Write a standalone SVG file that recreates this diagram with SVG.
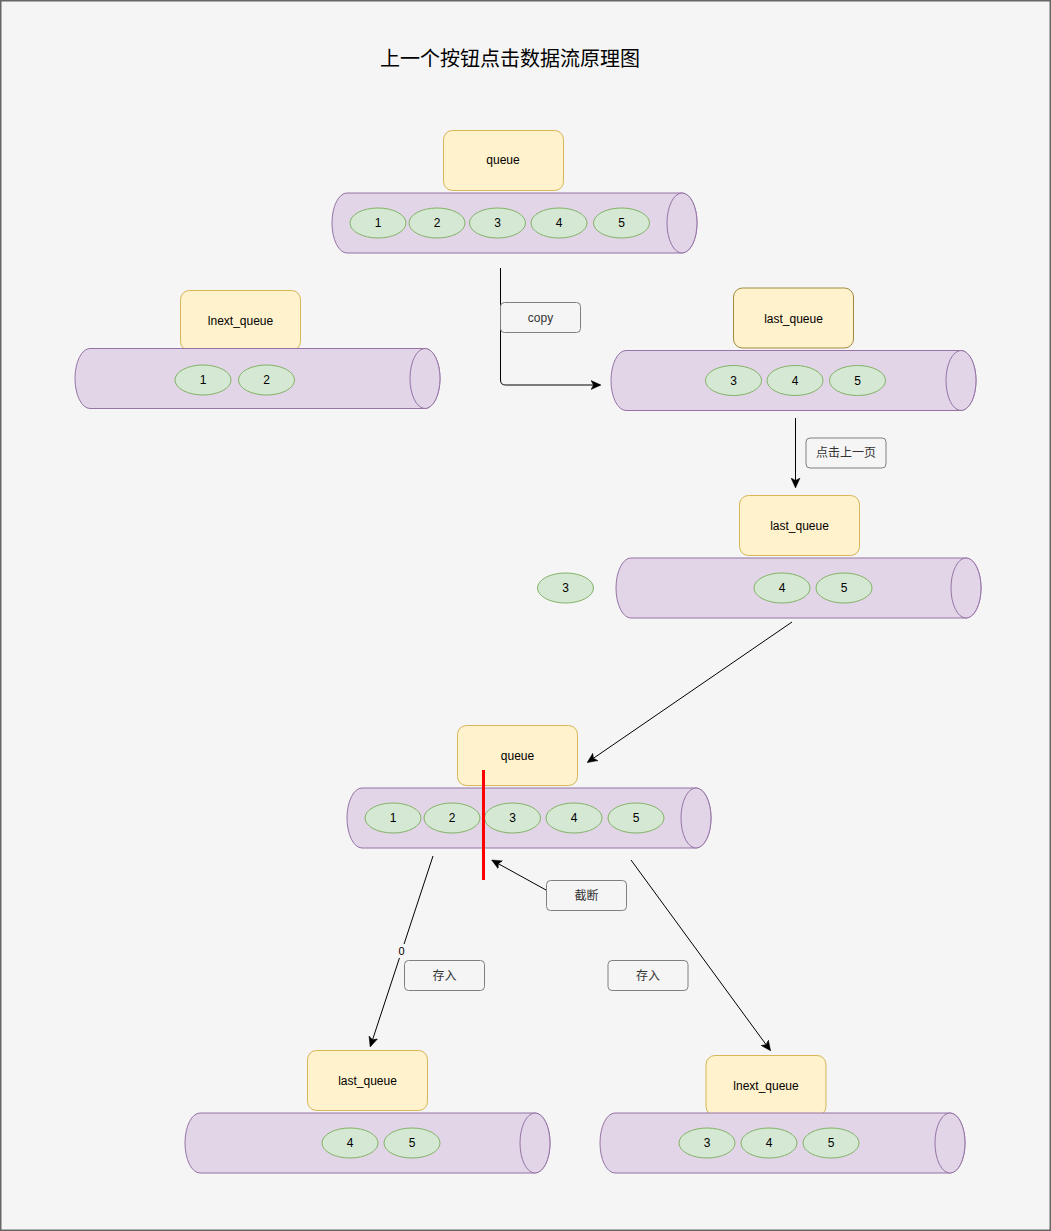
<svg xmlns="http://www.w3.org/2000/svg" width="1051" height="1231" viewBox="0 0 1051 1231">
  <style>
    .bg { fill: #f5f5f5; stroke: #666666; stroke-width: 1.5; }
    .title { font-family: "Liberation Sans", "Noto Sans CJK SC", sans-serif; font-size: 20px; fill: #000000; text-anchor: middle; }
    .label { fill: #fff2cc; stroke: #d6b656; stroke-width: 1; }
    .label-dark { fill: #fff2cc; stroke: #a08a3c; stroke-width: 1; }
    .tube { fill: #e1d5e7; stroke: #9673a6; stroke-width: 1; }
    .item { fill: #d5e8d4; stroke: #82b366; stroke-width: 1; }
    .note { fill: #f5f5f5; stroke: #808080; stroke-width: 1; }
    .txt { font-family: "Liberation Sans", "Noto Sans CJK SC", sans-serif; font-size: 12px; fill: #000000; text-anchor: middle; dominant-baseline: central; }
    .ntxt { font-family: "Liberation Sans", "Noto Sans CJK SC", sans-serif; font-size: 12px; fill: #333333; text-anchor: middle; dominant-baseline: central; }
    .edge { fill: none; stroke: #000000; stroke-width: 1; }
    .cut { fill: none; stroke: #ff0000; stroke-width: 3; }
  </style>
  <defs>
    <marker id="arrow" viewBox="0 0 10 10" refX="9" refY="5" markerWidth="10" markerHeight="10" markerUnits="userSpaceOnUse" orient="auto">
      <path d="M 0 0.5 L 10 5 L 0 9.5 L 2.5 5 Z" fill="#000000" stroke="#000000" stroke-width="0.5"/>
    </marker>
  </defs>

  <rect class="bg" x="0.75" y="0.75" width="1049.5" height="1229.5"/>

  <text class="title" x="510" y="66">上一个按钮点击数据流原理图</text>

  <!-- queue (top) -->
  <g id="queue-top">
    <path class="tube" d="M 347 193 L 682 193 A 15 30 0 0 1 682 253 L 347 253 A 15 30 0 0 1 347 193 Z"/>
    <ellipse class="tube" cx="682" cy="223" rx="15" ry="30"/>
    <rect class="label" x="443.5" y="130.5" width="120" height="60" rx="9"/>
    <text class="txt" x="503" y="160">queue</text>
    <ellipse class="item" cx="378" cy="223" rx="28" ry="15"/><text class="txt" x="378" y="223">1</text>
    <ellipse class="item" cx="437" cy="223" rx="28" ry="15"/><text class="txt" x="437" y="223">2</text>
    <ellipse class="item" cx="497.5" cy="223" rx="28" ry="15"/><text class="txt" x="497.5" y="223">3</text>
    <ellipse class="item" cx="559" cy="223" rx="28" ry="15"/><text class="txt" x="559" y="223">4</text>
    <ellipse class="item" cx="621.5" cy="223" rx="28" ry="15"/><text class="txt" x="621.5" y="223">5</text>
  </g>

  <!-- lnext_queue (upper left) -->
  <g id="lnext-queue-top">
    <rect class="label" x="180.5" y="290.5" width="120" height="60" rx="9"/>
    <text class="txt" x="240.5" y="321">lnext_queue</text>
    <path class="tube" d="M 90 348.5 L 425 348.5 A 15 30 0 0 1 425 408.5 L 90 408.5 A 15 30 0 0 1 90 348.5 Z"/>
    <ellipse class="tube" cx="425" cy="378.5" rx="15" ry="30"/>
    <ellipse class="item" cx="203" cy="380" rx="28" ry="15"/><text class="txt" x="203" y="380">1</text>
    <ellipse class="item" cx="266.5" cy="380" rx="28" ry="15"/><text class="txt" x="266.5" y="380">2</text>
  </g>

  <!-- last_queue (copied) -->
  <g id="last-queue-copy">
    <rect class="label-dark" x="733.5" y="288" width="120" height="60" rx="9"/>
    <text class="txt" x="793.5" y="318.5">last_queue</text>
    <path class="tube" d="M 626 350.5 L 961 350.5 A 15 30 0 0 1 961 410.5 L 626 410.5 A 15 30 0 0 1 626 350.5 Z"/>
    <ellipse class="tube" cx="961" cy="380.5" rx="15" ry="30"/>
    <ellipse class="item" cx="733.5" cy="380.5" rx="28" ry="15"/><text class="txt" x="733.5" y="380.5">3</text>
    <ellipse class="item" cx="795" cy="380.5" rx="28" ry="15"/><text class="txt" x="795" y="380.5">4</text>
    <ellipse class="item" cx="857.5" cy="380.5" rx="28" ry="15"/><text class="txt" x="857.5" y="380.5">5</text>
  </g>

  <!-- last_queue after clicking previous page -->
  <g id="last-queue-pop">
    <rect class="label" x="739.5" y="495.5" width="120" height="60" rx="9"/>
    <text class="txt" x="799.5" y="525.5">last_queue</text>
    <path class="tube" d="M 631 558 L 966 558 A 15 30 0 0 1 966 618 L 631 618 A 15 30 0 0 1 631 558 Z"/>
    <ellipse class="tube" cx="966" cy="588" rx="15" ry="30"/>
    <ellipse class="item" cx="782" cy="588" rx="28" ry="15"/><text class="txt" x="782" y="588">4</text>
    <ellipse class="item" cx="844" cy="588" rx="28" ry="15"/><text class="txt" x="844" y="588">5</text>
  </g>

  <g id="popped-item">
    <ellipse class="item" cx="565.5" cy="588" rx="28" ry="15"/><text class="txt" x="565.5" y="588">3</text>
  </g>

  <!-- queue (middle) -->
  <g id="queue-mid">
    <rect class="label" x="457.5" y="725.5" width="120" height="60" rx="9"/>
    <text class="txt" x="517.5" y="755.5">queue</text>
    <path class="tube" d="M 362 788 L 696 788 A 15 30 0 0 1 696 848 L 362 848 A 15 30 0 0 1 362 788 Z"/>
    <ellipse class="tube" cx="696" cy="818" rx="15" ry="30"/>
    <ellipse class="item" cx="393" cy="818" rx="28" ry="15"/><text class="txt" x="393" y="818">1</text>
    <ellipse class="item" cx="452" cy="818" rx="28" ry="15"/><text class="txt" x="452" y="818">2</text>
    <ellipse class="item" cx="512.5" cy="818" rx="28" ry="15"/><text class="txt" x="512.5" y="818">3</text>
    <ellipse class="item" cx="574" cy="818" rx="28" ry="15"/><text class="txt" x="574" y="818">4</text>
    <ellipse class="item" cx="636" cy="818" rx="28" ry="15"/><text class="txt" x="636" y="818">5</text>
  </g>

  <!-- last_queue (bottom left) -->
  <g id="last-queue-bottom">
    <rect class="label" x="307.5" y="1050.5" width="120" height="60" rx="9"/>
    <text class="txt" x="367.5" y="1080.5">last_queue</text>
    <path class="tube" d="M 200 1113 L 535 1113 A 15 30 0 0 1 535 1173 L 200 1173 A 15 30 0 0 1 200 1113 Z"/>
    <ellipse class="tube" cx="535" cy="1143" rx="15" ry="30"/>
    <ellipse class="item" cx="350" cy="1143" rx="28" ry="15"/><text class="txt" x="350" y="1143">4</text>
    <ellipse class="item" cx="412" cy="1143" rx="28" ry="15"/><text class="txt" x="412" y="1143">5</text>
  </g>

  <!-- lnext_queue (bottom right) -->
  <g id="lnext-queue-bottom">
    <rect class="label" x="706" y="1055.5" width="120" height="60" rx="9"/>
    <text class="txt" x="766" y="1085.5">lnext_queue</text>
    <path class="tube" d="M 615 1113 L 950 1113 A 15 30 0 0 1 950 1173 L 615 1173 A 15 30 0 0 1 615 1113 Z"/>
    <ellipse class="tube" cx="950" cy="1143" rx="15" ry="30"/>
    <ellipse class="item" cx="707" cy="1143" rx="28" ry="15"/><text class="txt" x="707" y="1143">3</text>
    <ellipse class="item" cx="769" cy="1143" rx="28" ry="15"/><text class="txt" x="769" y="1143">4</text>
    <ellipse class="item" cx="831" cy="1143" rx="28" ry="15"/><text class="txt" x="831" y="1143">5</text>
  </g>

  <!-- cut marker -->
  <g id="cut-line">
    <line class="cut" x1="483.5" y1="770" x2="483.5" y2="880"/>
  </g>

  <!-- connectors -->
  <g id="connectors">
    <path class="edge" d="M 500.5 268 L 500.5 380 Q 500.5 385 505.5 385 L 600 385" marker-end="url(#arrow)"/>
    <line class="edge" x1="795.5" y1="418" x2="795.5" y2="487" marker-end="url(#arrow)"/>
    <line class="edge" x1="792" y1="622" x2="588" y2="762" marker-end="url(#arrow)"/>
    <line class="edge" x1="546" y1="890" x2="492.5" y2="860.5" marker-end="url(#arrow)"/>
    <line class="edge" x1="433" y1="856" x2="370.5" y2="1046" marker-end="url(#arrow)"/>
    <line class="edge" x1="631" y1="860" x2="770" y2="1050" marker-end="url(#arrow)"/>
    <rect x="396" y="944" width="10" height="14" fill="#f5f5f5"/>
    <text class="txt" x="401.5" y="951" style="font-size:11px">0</text>
  </g>

  <!-- annotation boxes -->
  <g id="note-copy">
    <rect class="note" x="500.5" y="302.5" width="80" height="30" rx="4"/>
    <text class="ntxt" x="540.5" y="318">copy</text>
  </g>
  <g id="note-prev-page">
    <rect class="note" x="806" y="438" width="80" height="30" rx="4"/>
    <text class="ntxt" x="846" y="453">点击上一页</text>
  </g>
  <g id="note-cut">
    <rect class="note" x="546.5" y="880.5" width="80" height="30" rx="4"/>
    <text class="ntxt" x="586.5" y="895.5">截断</text>
  </g>
  <g id="note-store-left">
    <rect class="note" x="404.5" y="960.5" width="80" height="30" rx="4"/>
    <text class="ntxt" x="444.5" y="975.5">存入</text>
  </g>
  <g id="note-store-right">
    <rect class="note" x="608" y="960.5" width="80" height="30" rx="4"/>
    <text class="ntxt" x="648" y="975.5">存入</text>
  </g>
</svg>
